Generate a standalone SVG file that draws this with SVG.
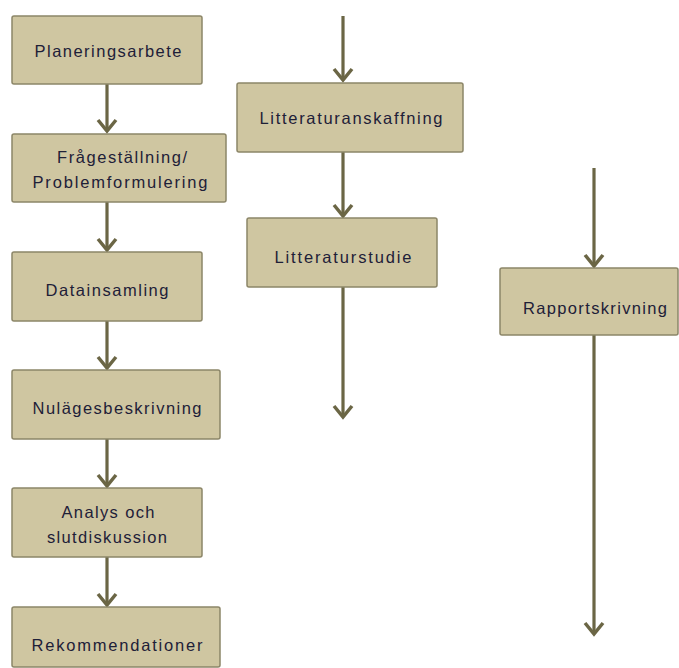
<svg xmlns="http://www.w3.org/2000/svg" width="679" height="668" viewBox="0 0 679 668">
<defs>
<style>
.box rect{fill:#cfc6a1;stroke:#8c8668;stroke-width:1.5}
.box text{font-family:"Liberation Sans","Open Sans",sans-serif;font-size:16.5px;fill:#1e2038;text-anchor:middle}
.conn line{stroke:#6b6645;stroke-width:3.2}
.conn path{fill:none;stroke:#6b6645;stroke-width:3.5;stroke-linejoin:miter}
</style>
</defs>
<rect width="679" height="668" fill="#ffffff"/>
<g class="conn" id="connectors">
<line x1="107" y1="84" x2="107" y2="131"/><path d="M98,120 L107,131 L116,120"/>
<line x1="107" y1="202" x2="107" y2="250"/><path d="M98,239 L107,250 L116,239"/>
<line x1="107" y1="321" x2="107" y2="368"/><path d="M98,357 L107,368 L116,357"/>
<line x1="107" y1="439" x2="107" y2="486"/><path d="M98,475 L107,486 L116,475"/>
<line x1="107" y1="557" x2="107" y2="605"/><path d="M98,594 L107,605 L116,594"/>
<line x1="343" y1="16" x2="343" y2="80"/><path d="M334,69 L343,80 L352,69"/>
<line x1="343" y1="152" x2="343" y2="216"/><path d="M334,205 L343,216 L352,205"/>
<line x1="343" y1="287" x2="343" y2="417"/><path d="M334,406 L343,417 L352,406"/>
<line x1="594" y1="168" x2="594" y2="266"/><path d="M585,255 L594,266 L603,255"/>
<line x1="594" y1="335" x2="594" y2="634"/><path d="M585,623 L594,634 L603,623"/>
</g>
<g class="box" id="planeringsarbete"><rect x="12" y="16" width="190" height="68" rx="2"/><text x="108" y="57" textLength="147">Planeringsarbete</text></g>
<g class="box" id="fragestallning"><rect x="12" y="134" width="214" height="68" rx="2"/><text x="122" y="163" textLength="130">Frågeställning/</text><text x="120" y="188" textLength="175">Problemformulering</text></g>
<g class="box" id="datainsamling"><rect x="12" y="252" width="190" height="69" rx="2"/><text x="107" y="296" textLength="123">Datainsamling</text></g>
<g class="box" id="nulagesbeskrivning"><rect x="12" y="370" width="208" height="69" rx="2"/><text x="117" y="414" textLength="169">Nulägesbeskrivning</text></g>
<g class="box" id="analys"><rect x="12" y="488" width="190" height="69" rx="2"/><text x="108" y="518" textLength="93">Analys och</text><text x="107" y="543" textLength="120">slutdiskussion</text></g>
<g class="box" id="rekommendationer"><rect x="12" y="607" width="208" height="60" rx="2"/><text x="117" y="651" textLength="171">Rekommendationer</text></g>
<g class="box" id="litteraturanskaffning"><rect x="237" y="83" width="226" height="69" rx="2"/><text x="351" y="124" textLength="183">Litteraturanskaffning</text></g>
<g class="box" id="litteraturstudie"><rect x="247" y="218" width="190" height="69" rx="2"/><text x="343" y="263" textLength="137">Litteraturstudie</text></g>
<g class="box" id="rapportskrivning"><rect x="500" y="268" width="178" height="67" rx="2"/><text x="595" y="314" textLength="144">Rapportskrivning</text></g>
</svg>
